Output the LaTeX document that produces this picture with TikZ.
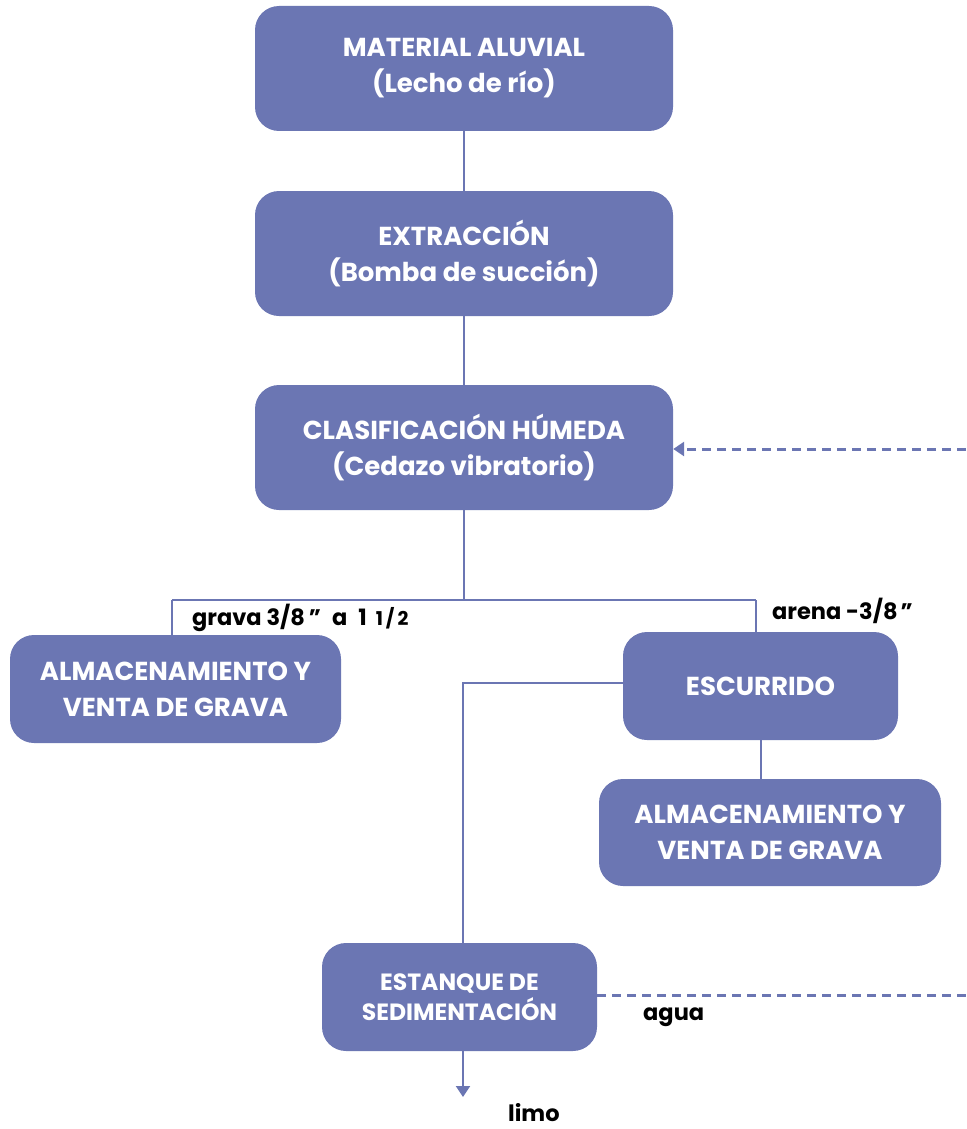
\documentclass[tikz,border=0pt]{standalone}
\usepackage{fontspec}
\setmainfont{Poppins}
\usetikzlibrary{arrows.meta}
\definecolor{boxblue}{RGB}{107,118,179}
\begin{document}
\begin{tikzpicture}[x=1pt,y=-1pt,
  box/.style={fill=boxblue, rounded corners=24pt, text=white,
    font=\bfseries\fontsize{26}{36}\selectfont, align=center, inner sep=0pt},
  link/.style={draw=boxblue, line width=2pt},
  flowback/.style={draw=boxblue, line width=3pt, dash pattern=on 9pt off 6pt},
  tip/.style={-{Triangle[width=14pt,length=11pt]}},
  tag/.style={font=\bfseries\fontsize{22.5}{26}\selectfont, text=black, inner sep=0pt}]
\useasboundingbox (0,0) rectangle (966,1129);

% process boxes
\node[box, minimum width=418pt, minimum height=125pt] (aluvial) at (464,68.5)
  {MATERIAL ALUVIAL\\(Lecho de río)};
\node[box, minimum width=418pt, minimum height=125pt] (extraccion) at (464,253.5)
  {EXTRACCIÓN\\(Bomba de succión)};
\node[box, minimum width=418pt, minimum height=125pt] (clasif) at (464,447.5)
  {CLASIFICACIÓN HÚMEDA\\(Cedazo vibratorio)};
\node[box, minimum width=331pt, minimum height=108pt] (gravaL) at (175.5,689)
  {ALMACENAMIENTO Y\\VENTA DE GRAVA};
\node[box, minimum width=275pt, minimum height=108pt] (escurrido) at (760.5,686)
  {ESCURRIDO};
\node[box, minimum width=342pt, minimum height=107pt] (gravaR) at (770,832.5)
  {ALMACENAMIENTO Y\\VENTA DE GRAVA};
\node[box, minimum width=275pt, minimum height=108pt,
  font=\bfseries\fontsize{23.5}{30}\selectfont] (estanque) at (459.5,997)
  {ESTANQUE DE\\SEDIMENTACIÓN};

% branch points
\coordinate (split) at (464,600);
\coordinate (lt) at (172,600);
\coordinate (rt) at (756,600);
\coordinate (bend) at (463,683);
\coordinate (limoend) at (463,1097);
\coordinate (aguaout) at (966,995);
\coordinate (retorno) at (966,449);

% solid connectors
\draw[link] (aluvial.south) -- (extraccion.north);
\draw[link] (extraccion.south) -- (clasif.north);
\draw[link] (clasif.south) -- (split);
\draw[link] (lt) -- (rt);
\draw[link] (lt) -- (lt |- gravaL.north);
\draw[link] (rt) -- (rt |- escurrido.north);
\draw[link] (escurrido.west |- bend) -- (bend) -- (bend |- estanque.north);
\draw[link] (escurrido.south) -- (escurrido.south |- gravaR.north);
\draw[link, tip] (bend |- estanque.south) -- (limoend);

% water recirculation
\draw[flowback] (estanque.east |- aguaout) -- (aguaout);
\draw[flowback, tip] (retorno) -- (clasif.east |- retorno);

% stream labels
\node[tag, anchor=base west] (lblgrava) at (192,625)
  {grava 3/8\hspace{4pt}”\hspace{11pt}a\hspace{11pt}1\hspace{9pt}{\fontsize{19}{20}\selectfont 1\kern3pt/\kern3pt2}};
\node[tag, anchor=base west] (lblarena) at (772,619) {arena -3/8\hspace{3pt}”};
\node[tag, anchor=base west] (lblagua) at (643,1020) {agua};
\node[tag, anchor=base west] (lbllimo) at (508,1121) {limo};
\end{tikzpicture}
\end{document}
